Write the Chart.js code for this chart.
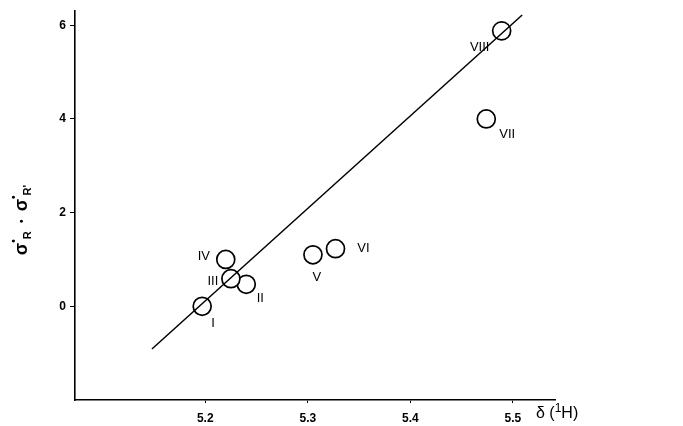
<!DOCTYPE html>
<html>
<head>
<meta charset="utf-8">
<script src="https://cdn.jsdelivr.net/npm/chart.js@4.4.1/dist/chart.umd.min.js"></script>
<style>
  html, body { margin: 0; padding: 0; background: #fff; overflow: hidden; }
  #wrap { width: 683px; height: 426px; position: relative; }
</style>
</head>
<body>
<div id="wrap"><canvas id="c" width="683" height="426"></canvas></div>
<script>
// compounds
const labels = ["I", "II", "III", "IV", "V", "VI", "VII", "VIII"];
const shift = [5.197, 5.240, 5.225, 5.220, 5.305, 5.327, 5.474, 5.489];
const sigma = [0.00, 0.47, 0.59, 1.00, 1.10, 1.23, 4.00, 5.88];
// fitted line end points
const fitX = [5.148, 5.509];
const fitY = [-0.91, 6.22];
const xTicks = [5.2, 5.3, 5.4, 5.5];
const yTicks = [0, 2, 4, 6];

// where each numeral sits relative to its circle (px)
const labelOffsets = [[11, 17], [14, 14], [-18, 3], [-22, -3], [4, 23], [28, 0], [21, 15], [-22, 17]];

const FONT = "'Liberation Sans', Arial, sans-serif";

function drawParts(ctx, parts, x, y) {
  parts.forEach(pt => {
    ctx.font = pt[1] + " " + FONT;
    ctx.fillText(pt[0], x, y + pt[2]);
    x += ctx.measureText(pt[0]).width;
  });
}

function partsWidth(ctx, parts) {
  let w = 0;
  parts.forEach(pt => { ctx.font = pt[1] + " " + FONT; w += ctx.measureText(pt[0]).width; });
  return w;
}

const annotate = {
  id: "annotate",
  afterDatasetsDraw(chart) {
    const ctx = chart.ctx;
    const meta = chart.getDatasetMeta(1);
    ctx.save();
    ctx.fillStyle = "#000";
    ctx.font = "13px " + FONT;
    ctx.textAlign = "center";
    ctx.textBaseline = "middle";
    meta.data.forEach((p, i) => {
      const o = labelOffsets[i];
      ctx.fillText(labels[i], p.x + o[0], p.y + o[1]);
    });

    // x axis title next to the last tick label
    ctx.textAlign = "left";
    ctx.textBaseline = "alphabetic";
    drawParts(ctx, [["δ (", "16px", 0], ["1", "12px", -6], ["H)", "16px", 0]], 536, 418);

    // y axis title, rotated
    ctx.translate(27, 220);
    ctx.rotate(-Math.PI / 2);
    const parts = [
      ["σ", "bold 18px", 0], ["•", "bold 10px", -10], ["R", "bold 11px", 4],
      ["   •   ", "bold 10px", -2],
      ["σ", "bold 18px", 0], ["•", "bold 10px", -10], ["R'", "bold 11px", 4]
    ];
    drawParts(ctx, parts, -partsWidth(ctx, parts) / 2, 0);
    ctx.restore();
  }
};

new Chart(document.getElementById("c"), {
  type: "scatter",
  data: {
    datasets: [
      {
        type: "line",
        data: fitX.map((x, i) => ({ x, y: fitY[i] })),
        borderColor: "#000",
        borderWidth: 1.5,
        pointRadius: 0,
        fill: false
      },
      {
        data: shift.map((x, i) => ({ x, y: sigma[i] })),
        pointStyle: "circle",
        pointRadius: 9,
        pointBorderWidth: 1.7,
        pointBorderColor: "#000",
        pointBackgroundColor: "#fff"
      }
    ]
  },
  options: {
    responsive: false,
    animation: false,
    layout: { padding: { top: 8, right: 128, left: 0, bottom: 0 } },
    plugins: { legend: { display: false }, tooltip: { enabled: false } },
    scales: {
      x: {
        type: "linear",
        min: 5.073,
        max: 5.541,
        afterBuildTicks: s => { s.ticks = xTicks.map(v => ({ value: v })); },
        afterFit: s => { s.height = 26; },
        grid: { drawOnChartArea: false, drawTicks: true, tickLength: 3, color: "#000" },
        border: { display: true, color: "#000", width: 1.6 },
        ticks: {
          color: "#000",
          font: { family: FONT, size: 12, weight: "bold" },
          padding: 8,
          maxRotation: 0,
          callback: v => v.toFixed(1)
        }
      },
      y: {
        min: -2,
        max: 6.3,
        afterBuildTicks: s => { s.ticks = yTicks.map(v => ({ value: v })); },
        afterFit: s => { s.width = 75; },
        grid: { drawOnChartArea: false, drawTicks: true, tickLength: 5, color: "#000" },
        border: { display: true, color: "#000", width: 1.6 },
        ticks: {
          color: "#000",
          font: { family: FONT, size: 12, weight: "bold" },
          padding: 4
        }
      }
    }
  },
  plugins: [annotate]
});
</script>
</body>
</html>
